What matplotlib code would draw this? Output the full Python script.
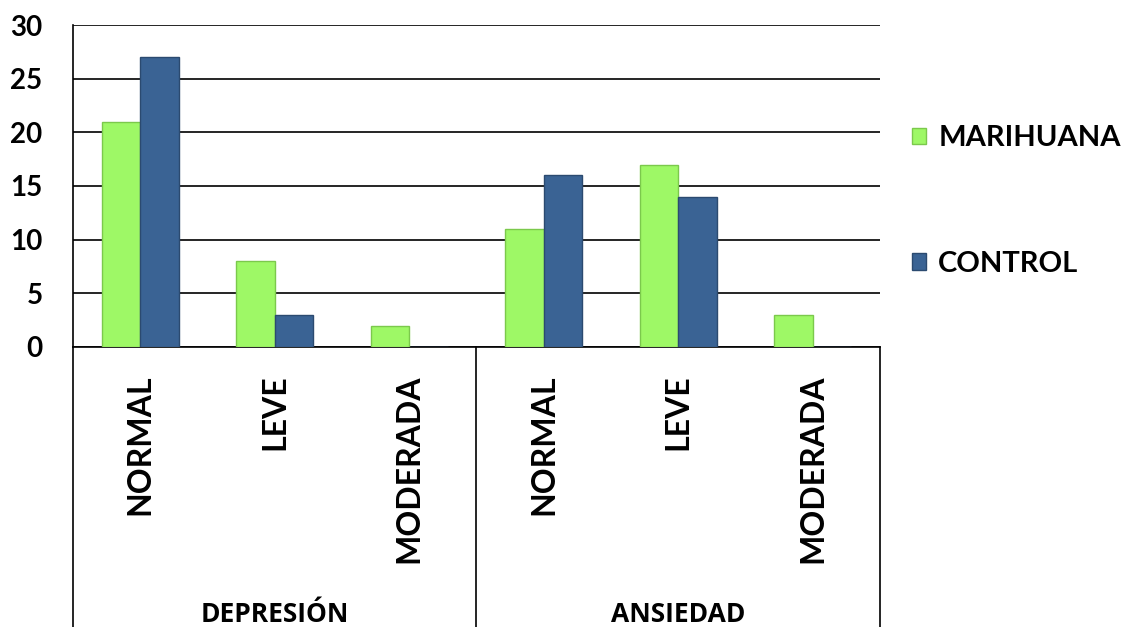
import numpy as np
import matplotlib
matplotlib.use('Agg')
import matplotlib.pyplot as plt
from matplotlib.patches import Patch

plt.rcParams['font.family'] = ['Lato', 'DejaVu Sans']

# data
categories = ['NORMAL', 'LEVE', 'MODERADA', 'NORMAL', 'LEVE', 'MODERADA']
groups = ['DEPRESIÓN', 'ANSIEDAD']
marihuana = [21, 8, 2, 11, 17, 3]
control = [27, 3, 0, 16, 14, 0]
series_names = ['MARIHUANA', 'CONTROL']

green = '#9ef866'
blue = '#3a6394'

fig = plt.figure(figsize=(11.23, 6.27), dpi=100)
ax = fig.add_axes([0.065, 0.4466, 0.7186, 0.5135])

x = np.arange(len(categories))
w = 0.285
ax.bar(x - w/2, marihuana, w, color=green, edgecolor='#7bc94c', linewidth=1, zorder=3)
ax.bar(x + w/2, control, w, color=blue, edgecolor='#2b4a70', linewidth=1, zorder=3)

ax.set_xlim(-0.5, len(categories) - 0.5)
ax.set_ylim(0, 30)
ax.set_yticks(range(0, 31, 5))
ax.yaxis.grid(True, color='black', linewidth=1.2, zorder=0)
ax.set_axisbelow(True)
for s in ['right', 'top']:
	ax.spines[s].set_visible(False)
ax.spines['left'].set_linewidth(1.2)
ax.spines['bottom'].set_linewidth(1.2)

ax.set_xticks(x)
ax.set_xticklabels(categories, rotation=90, fontsize=23, fontweight='bold', va='top')
ax.tick_params(axis='x', length=0, pad=20)
ax.tick_params(axis='y', length=0, pad=22, labelsize=20)
for t in ax.get_yticklabels():
	t.set_fontweight('bold')

# group separators below the axis
for xs in [-0.5, 2.5, 5.5]:
	ax.plot([xs, xs], [0, -0.9], transform=ax.get_xaxis_transform(), color='black',
		linewidth=1.2, clip_on=False)
for i, g in enumerate(groups):
	ax.text(3*i + 1, -0.83, g, transform=ax.get_xaxis_transform(), ha='center', va='center',
		fontsize=19, fontweight='bold', family='Open Sans')

handles = [Patch(facecolor=green, edgecolor='#7bc94c'), Patch(facecolor=blue, edgecolor='#2b4a70')]
leg = fig.legend(handles, series_names, loc='upper left', bbox_to_anchor=(0.812, 0.80),
	frameon=False, handlelength=0.5, handleheight=0.5, handletextpad=0.4,
	borderpad=0, borderaxespad=0, labelspacing=3.4, prop={'weight': 'bold', 'size': 21})

fig.savefig('out.png', dpi=100)
